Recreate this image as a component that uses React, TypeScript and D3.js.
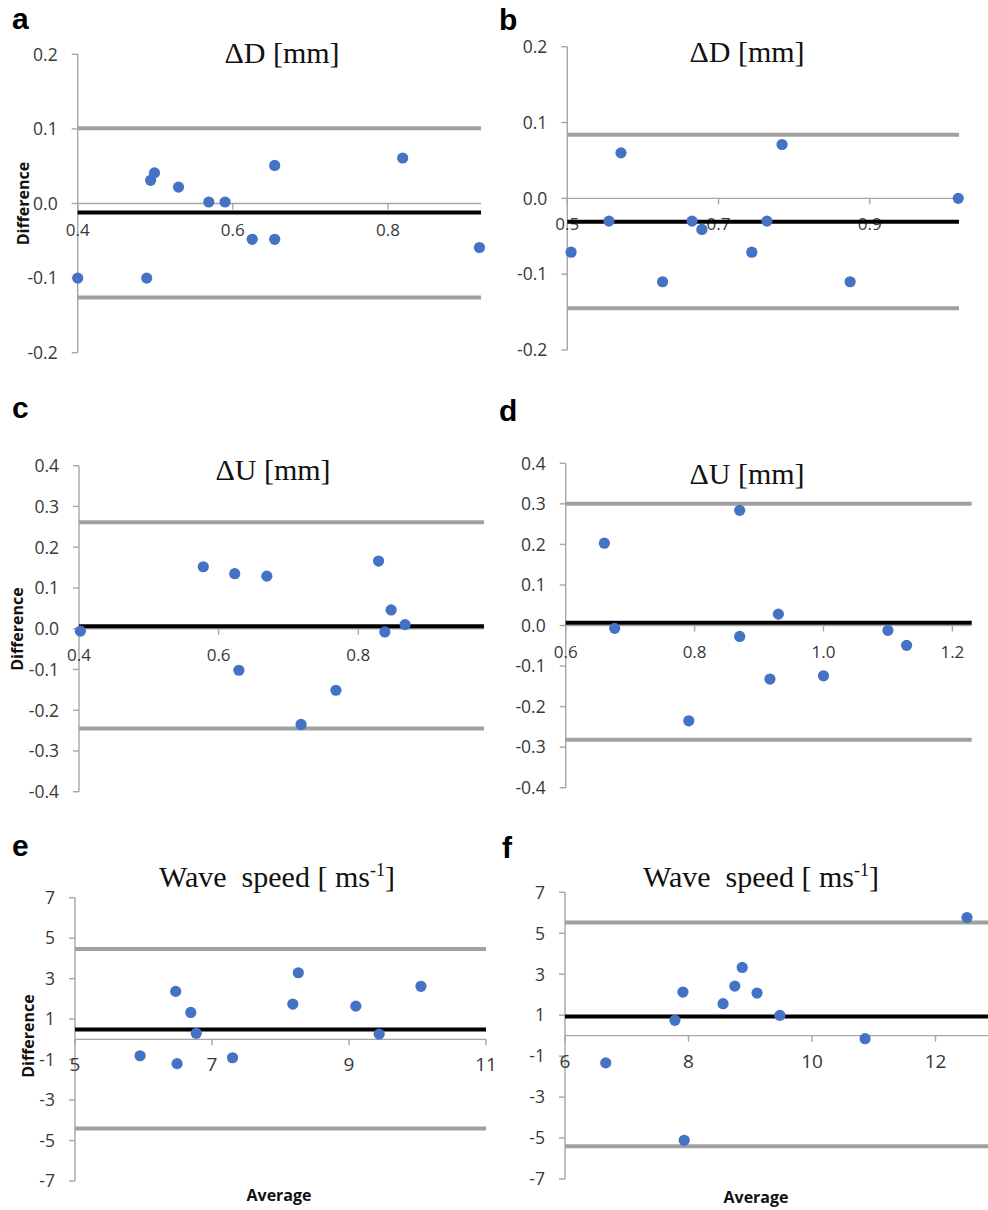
import React from "react";
import * as d3 from "d3";

// ---------- DATA ----------
// Panel a: ΔD [mm]
const aAverage = [0.4, 0.489, 0.494, 0.499, 0.53, 0.569, 0.59, 0.625, 0.654, 0.654, 0.819, 0.918];
const aDifference = [-0.1, -0.1, 0.031, 0.041, 0.022, 0.002, 0.002, -0.048, -0.048, 0.051, 0.061, -0.059];
const aLimits = { mean: -0.012, upper: 0.101, lower: -0.126 };
const aXTicks = [0.4, 0.6, 0.8];

// Panel b: ΔD [mm]
const bAverage = [0.505, 0.555, 0.571, 0.626, 0.665, 0.678, 0.744, 0.764, 0.784, 0.874, 1.017];
const bDifference = [-0.071, -0.03, 0.06, -0.11, -0.03, -0.041, -0.071, -0.03, 0.071, -0.11, 0.0];
const bLimits = { mean: -0.031, upper: 0.084, lower: -0.145 };
const bXTicks = [0.5, 0.7, 0.9];

// Panel c: ΔU [mm]
const cAverage = [0.402, 0.578, 0.623, 0.629, 0.669, 0.718, 0.768, 0.829, 0.838, 0.847, 0.867];
const cDifference = [-0.006, 0.152, 0.135, -0.102, 0.129, -0.235, -0.151, 0.166, -0.008, 0.046, 0.01];
const cLimits = { mean: 0.006, upper: 0.261, lower: -0.245 };
const cXTicks = [0.4, 0.6, 0.8];

// Panel d: ΔU [mm]
const dAverage = [0.66, 0.676, 0.791, 0.87, 0.87, 0.917, 0.93, 1.0, 1.1, 1.129];
const dDifference = [0.203, -0.007, -0.235, 0.284, -0.027, -0.132, 0.028, -0.124, -0.012, -0.049];
const dLimits = { mean: 0.007, upper: 0.3, lower: -0.282 };
const dXTicks = [0.6, 0.8, 1.0, 1.2];

// Panel e: Wave speed [ms-1]
const eAverage = [5.95, 6.47, 6.49, 6.69, 6.77, 7.3, 8.18, 8.26, 9.1, 9.44, 10.05];
const eDifference = [-0.81, 2.37, -1.2, 1.33, 0.3, -0.91, 1.74, 3.29, 1.64, 0.26, 2.62];
const eLimits = { mean: 0.49, upper: 4.46, lower: -4.4 };
const eXTicks = [5, 7, 9, 11];

// Panel f: Wave speed [ms-1]
const fAverage = [6.66, 7.78, 7.91, 7.93, 8.56, 8.75, 8.87, 9.11, 9.48, 10.86, 12.51];
const fDifference = [-1.33, 0.75, 2.13, -5.11, 1.56, 2.42, 3.33, 2.08, 0.99, -0.15, 5.77];
const fLimits = { mean: 0.94, upper: 5.53, lower: -5.4 };
const fXTicks = [6, 8, 10, 12];

const mmYTicksSmall = [-0.2, -0.1, 0, 0.1, 0.2];
const mmYTicksLarge = [-0.4, -0.3, -0.2, -0.1, 0, 0.1, 0.2, 0.3, 0.4];
const speedYTicks = [-7, -5, -3, -1, 1, 3, 5, 7];

// ---------- LAYOUT ----------
type Panel = {
  letter: string;
  avg: number[];
  diff: number[];
  limits: { mean: number; upper: number; lower: number };
  xTicks: number[];
  yTicks: number[];
  xDomain: [number, number];
  xRange: [number, number];
  yDomain: [number, number];
  yRange: [number, number];
  decimals: number;
  title: "D" | "U" | "speed";
  titleX: number;
  titleY: number;
  letterX: number;
  letterY: number;
  diffLabel?: [number, number];
  avgLabel?: [number, number];
  xLabelSize: number;
};

const PANELS: Panel[] = [
  {
    letter: "a", avg: aAverage, diff: aDifference, limits: aLimits, xTicks: aXTicks, yTicks: mmYTicksSmall,
    xDomain: [0.4, 0.92], xRange: [77.7, 481], yDomain: [-0.2, 0.2], yRange: [352.7, 54.3], decimals: 1,
    title: "D", titleX: 282, titleY: 63, letterX: 12, letterY: 29, diffLabel: [23, 203.5], xLabelSize: 17,
  },
  {
    letter: "b", avg: bAverage, diff: bDifference, limits: bLimits, xTicks: bXTicks, yTicks: mmYTicksSmall,
    xDomain: [0.5, 1.018], xRange: [567.3, 959], yDomain: [-0.2, 0.2], yRange: [350, 46.7], decimals: 1,
    title: "D", titleX: 747, titleY: 61.5, letterX: 499, letterY: 30, xLabelSize: 17,
  },
  {
    letter: "c", avg: cAverage, diff: cDifference, limits: cLimits, xTicks: cXTicks, yTicks: mmYTicksLarge,
    xDomain: [0.4, 0.98], xRange: [79, 484], yDomain: [-0.4, 0.4], yRange: [791.7, 465.7], decimals: 1,
    title: "U", titleX: 273, titleY: 480, letterX: 12, letterY: 418, diffLabel: [17, 629], xLabelSize: 17,
  },
  {
    letter: "d", avg: dAverage, diff: dDifference, limits: dLimits, xTicks: dXTicks, yTicks: mmYTicksLarge,
    xDomain: [0.6, 1.23], xRange: [565.7, 971.7], yDomain: [-0.4, 0.4], yRange: [787.7, 463.3], decimals: 1,
    title: "U", titleX: 747, titleY: 484, letterX: 499, letterY: 421, xLabelSize: 17,
  },
  {
    letter: "e", avg: eAverage, diff: eDifference, limits: eLimits, xTicks: eXTicks, yTicks: speedYTicks,
    xDomain: [5, 11], xRange: [75, 486], yDomain: [-7, 7], yRange: [1181, 897.7], decimals: 0,
    title: "speed", titleX: 277, titleY: 886.5, letterX: 12, letterY: 856, diffLabel: [28, 1036],
    avgLabel: [279, 1201], xLabelSize: 19,
  },
  {
    letter: "f", avg: fAverage, diff: fDifference, limits: fLimits, xTicks: fXTicks, yTicks: speedYTicks,
    xDomain: [6, 13.2], xRange: [565, 1009.6], yDomain: [-7, 7], yRange: [1179, 892.3], decimals: 0,
    title: "speed", titleX: 761, titleY: 886.5, letterX: 502, letterY: 858, avgLabel: [756, 1203], xLabelSize: 19,
  },
];

const AXIS = "#a6a6a6";
const LIMIT = "#a0a0a0";
const DOT = "#4472C4";
const TICK_TEXT = "#383838";
const SANS = "'Open Sans', 'Noto Sans', sans-serif";
const SERIF = "'Liberation Serif', 'DejaVu Serif', serif";

function fmt(v: number, decimals: number) {
  const s = Math.abs(v).toFixed(decimals);
  return (v < -1e-9 ? "-" : "") + s;
}

function Title({ p }: { p: Panel }) {
  if (p.title === "speed") {
    return (
      <text x={p.titleX} y={p.titleY} textAnchor="middle" fontFamily={SERIF} fontSize={30} fill="#111"
        style={{ whiteSpace: "pre" }}>
        <tspan>{"Wave  speed [ ms"}</tspan>
        <tspan fontSize={18} dy={-11}>{"-1"}</tspan>
        <tspan dy={11}>{"]"}</tspan>
      </text>
    );
  }
  return (
    <text x={p.titleX} y={p.titleY} textAnchor="middle" fontFamily={SERIF} fontSize={30} fill="#111">
      {`Δ${p.title} [mm]`}
    </text>
  );
}

function PanelView({ p }: { p: Panel }) {
  const x = d3.scaleLinear().domain(p.xDomain).range(p.xRange);
  const y = d3.scaleLinear().domain(p.yDomain).range(p.yRange);
  const x0 = p.xRange[0];
  const x1 = p.xRange[1];
  const y0 = y(0);
  const tickLen = 6;
  return (
    <g>
      <text x={p.letterX} y={p.letterY} fontFamily="'Liberation Sans', Arial, sans-serif" fontWeight="bold"
        fontSize={30} fill="#000">{p.letter}</text>
      <Title p={p} />
      {/* y axis */}
      <line x1={x0} x2={x0} y1={y(p.yDomain[1])} y2={y(p.yDomain[0])} stroke={AXIS} strokeWidth={1.4} />
      {p.yTicks.map((t) => (
        <g key={"y" + t}>
          <line x1={x0 - tickLen} x2={x0} y1={y(t)} y2={y(t)} stroke={AXIS} strokeWidth={1.4} />
          <text x={x0 - 20} y={y(t)} dy="0.36em" textAnchor="end" fontFamily={SANS} fontSize={17.5}
            fill={TICK_TEXT}>{fmt(t, p.decimals)}</text>
        </g>
      ))}
      {/* x axis at zero */}
      <line x1={x0} x2={x1} y1={y0} y2={y0} stroke={AXIS} strokeWidth={1.4} />
      {p.xTicks.map((t) => (
        <g key={"x" + t}>
          <line x1={x(t)} x2={x(t)} y1={y0} y2={y0 + tickLen} stroke={AXIS} strokeWidth={1.4} />
          <text x={x(t)} y={y0 + 32} textAnchor="middle" fontFamily={SANS} fontSize={p.xLabelSize}
            fill={TICK_TEXT}>{fmt(t, p.decimals)}</text>
        </g>
      ))}
      {/* limits of agreement */}
      <line x1={x0} x2={x1} y1={y(p.limits.upper)} y2={y(p.limits.upper)} stroke={LIMIT} strokeWidth={4} />
      <line x1={x0} x2={x1} y1={y(p.limits.lower)} y2={y(p.limits.lower)} stroke={LIMIT} strokeWidth={4} />
      <line x1={x0} x2={x1} y1={y(p.limits.mean)} y2={y(p.limits.mean)} stroke="#000" strokeWidth={4} />
      {/* points */}
      {p.avg.map((a, i) => (
        <circle key={i} cx={x(a)} cy={y(p.diff[i])} r={5.6} fill={DOT} />
      ))}
      {p.diffLabel && (
        <text x={p.diffLabel[0]} y={p.diffLabel[1]} transform={`rotate(-90 ${p.diffLabel[0]} ${p.diffLabel[1]})`}
          textAnchor="middle" dy="0.35em" fontFamily={SANS} fontWeight="bold" fontSize={16} fill="#111">
          Difference
        </text>
      )}
      {p.avgLabel && (
        <text x={p.avgLabel[0]} y={p.avgLabel[1]} textAnchor="middle" fontFamily={SANS} fontWeight="bold"
          fontSize={16} fill="#111">Average</text>
      )}
    </g>
  );
}

export default function App() {
  return (
    <svg width={988} height={1210} viewBox="0 0 988 1210"
      style={{ position: "absolute", left: 0, top: 0, background: "#fff", overflow: "hidden" }}>
      <rect x={0} y={0} width={988} height={1210} fill="#fff" />
      {PANELS.map((p) => (
        <PanelView key={p.letter} p={p} />
      ))}
    </svg>
  );
}
